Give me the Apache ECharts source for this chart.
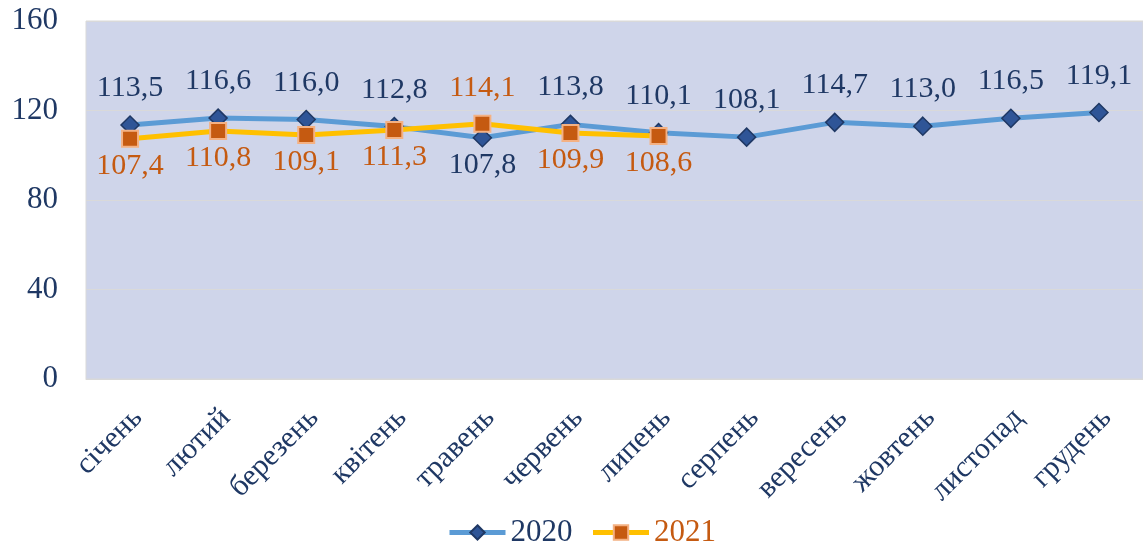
<!DOCTYPE html>
<html><head><meta charset="utf-8">
<script src="https://cdn.jsdelivr.net/npm/echarts@6/dist/echarts.min.js"></script>
<style>html,body{margin:0;padding:0;background:#fff}#c{width:1143px;height:546px}</style>
</head><body><div id="c"></div>
<script>
const categories = ['січень','лютий','березень','квітень','травень','червень','липень','серпень','вересень','жовтень','листопад','грудень'];
const values2020 = [113.5,116.6,116.0,112.8,107.8,113.8,110.1,108.1,114.7,113.0,116.5,119.1];
const values2021 = [107.4,110.8,109.1,111.3,114.1,109.9,108.6];
const labelBelow2020 = [4];
const labelAbove2021 = [4];
const yTicks = [0,40,80,120,160];

const navy = '#1F3864', orange = '#C55A11';
const fmt = p => p.value.toFixed(1).replace('.', ',');
const font = 'Liberation Serif';

const d2020 = values2020.map((v,i) => ({
  value: v,
  label: labelBelow2020.includes(i) ? {position:'bottom', distance:3} : {position:'top', distance:12}
}));
const d2021 = values2021.map((v,i) => ({
  value: v,
  label: labelAbove2021.includes(i) ? {position:'top', distance:12} : {position:'bottom', distance:3}
}));

const chart = echarts.init(document.getElementById('c'));
chart.setOption({
  animation: false,
  grid: {left: 86, right: 0, top: 21, bottom: 167, show: true, backgroundColor: '#CFD5EA', borderColor: '#D9D9D9', borderWidth: 1},
  xAxis: {
    type: 'category', data: categories, boundaryGap: true,
    axisLine: {show: true, lineStyle: {color: '#D9D9D9'}},
    axisTick: {show: false},
    axisLabel: {rotate: 45, margin: 21, verticalAlign: 'top', padding: [0, 4, 0, 0], color: navy, fontFamily: font, fontSize: 30, interval: 0}
  },
  yAxis: {
    type: 'value', min: yTicks[0], max: yTicks[yTicks.length-1], interval: 40,
    axisLine: {show: false}, axisTick: {show: false},
    axisLabel: {color: navy, fontFamily: font, fontSize: 31, margin: 28},
    splitLine: {lineStyle: {color: '#D9D9D9', width: 1}}
  },
  legend: {
    top: 512, left: 442, itemWidth: 56, itemHeight: 18, itemGap: 18,
    lineStyle: {width: 5},
    textStyle: {fontFamily: font, fontSize: 31},
    data: [{name: '2020', textStyle: {color: navy}}, {name: '2021', textStyle: {color: orange}}]
  },
  series: [
    {
      name: '2020', type: 'line', data: d2020,
      lineStyle: {color: '#5B9BD5', width: 5},
      itemStyle: {color: '#2F5597', borderColor: '#1F3864', borderWidth: 1.5},
      symbol: 'diamond', symbolSize: 18,
      label: {show: true, formatter: fmt, color: navy, fontFamily: font, fontSize: 30},
      z: 2
    },
    {
      name: '2021', type: 'line', data: d2021,
      lineStyle: {color: '#FFC000', width: 5},
      itemStyle: {color: orange, borderColor: '#F4B183', borderWidth: 2},
      symbol: 'rect', symbolSize: 16,
      label: {show: true, formatter: fmt, color: orange, fontFamily: font, fontSize: 30},
      z: 3
    }
  ]
});
</script></body></html>
